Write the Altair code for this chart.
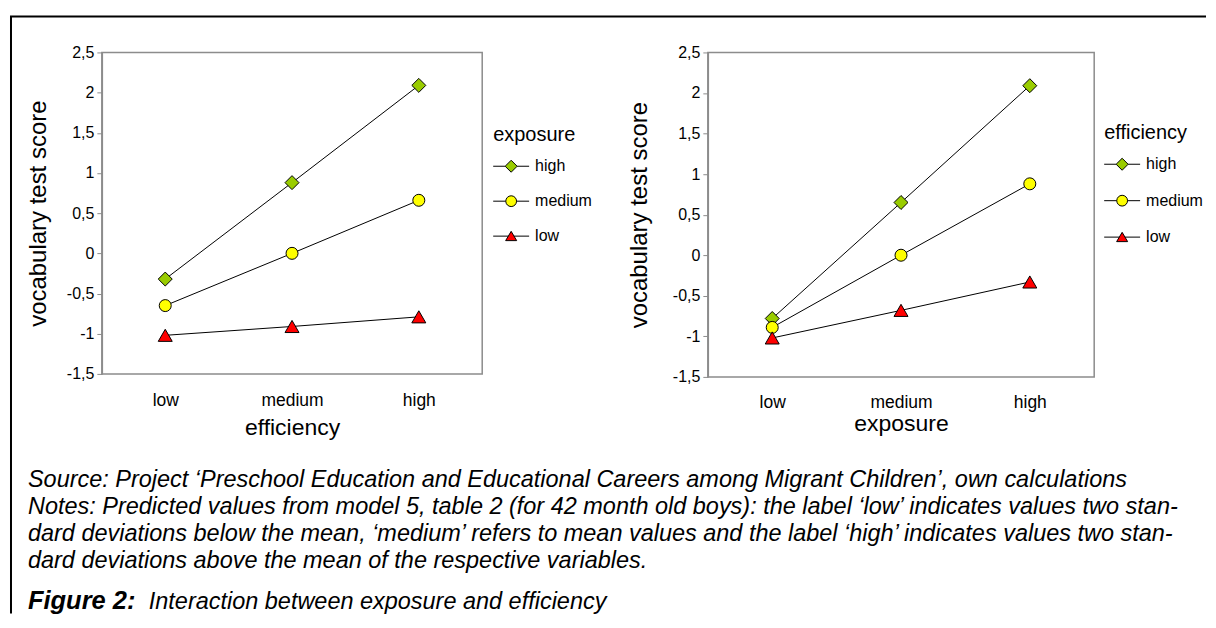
import altair as alt
import pandas as pd

# ---------------- data ----------------
levels = ["low", "medium", "high"]
series_order = ["high", "medium", "low"]

# left panel: x = efficiency, series = exposure
left_high = [-0.32, 0.88, 2.09]
left_medium = [-0.65, 0.00, 0.66]
left_low = [-1.02, -0.91, -0.79]

# right panel: x = exposure, series = efficiency
right_high = [-0.78, 0.65, 2.09]
right_medium = [-0.89, 0.00, 0.88]
right_low = [-1.02, -0.68, -0.33]

y_ticks = [-1.5, -1, -0.5, 0, 0.5, 1, 1.5, 2, 2.5]

marker_colors = ["#99CC00", "#FFFF00", "#FF0000"]
marker_shapes = ["diamond", "circle", "triangle-up"]
marker_sizes = [196, 144, 196]
outline_colors = ["black", "black", "black"]
# legend symbols: short line with the marker on it
legend_shapes = [
    "M-3,0H-1M1,0H3M0,-1L1,0L0,1L-1,0Z",
    "M-3,0H-0.9M0.9,0H3M-0.9,0A0.9,0.9,0,1,0,0.9,0A0.9,0.9,0,1,0,-0.9,0Z",
    "M-3,0H-0.47M0.47,0H3M0,-0.8L0.92,0.75L-0.92,0.75Z",
]

y_title = "vocabulary test score"

caption_lines = [
    "Source: Project \u2018Preschool Education and Educational Careers among Migrant Children\u2019, own calculations",
    "Notes: Predicted values from model 5, table 2 (for 42 month old boys): the label \u2018low\u2019 indicates values two stan-",
    "dard deviations below the mean, \u2018medium\u2019 refers to mean values and the label \u2018high\u2019 indicates values two stan-",
    "dard deviations above the mean of the respective variables.",
]
figure_label = "Figure 2:"
figure_text = "Interaction between exposure and efficiency"

FONT = "Liberation Sans"


def make_df(series_name, x_name, high, medium, low):
    rows = []
    for s, vals in zip(series_order, [high, medium, low]):
        for lv, v in zip(levels, vals):
            rows.append({x_name: lv, series_name: s, "score": v})
    return pd.DataFrame(rows)


def panel(df, x_name, series_name, W, H, legend_x, legend_y, ytitle_x, xtitle_y, label_pad, row_pad):
    base = alt.Chart(df)
    X = alt.X(
        f"{x_name}:N",
        sort=levels,
        scale=alt.Scale(type="point", domain=levels, padding=0.5),
        axis=alt.Axis(
            title=x_name, labelAngle=0, ticks=False, tickSize=0, domain=False, grid=False,
            labelFont=FONT, labelFontSize=17.5, labelColor="black", labelPadding=label_pad,
            titleFont=FONT, titleFontSize=23, titleFontWeight="normal", titleColor="black",
            titleY=xtitle_y, titleBaseline="middle",
        ),
    )
    Y = alt.Y(
        "score:Q",
        scale=alt.Scale(domain=[-1.5, 2.5], nice=False, zero=False),
        axis=alt.Axis(
            values=y_ticks, grid=False,
            labelExpr="replace(toString(datum.value), '.', ',')",
            domainColor="#8c8c8c", domainWidth=1.5, tickColor="#8c8c8c", tickSize=5, tickWidth=1,
            labelFont=FONT, labelFontSize=16, labelColor="black", labelPadding=3,
            title=y_title, titleFont=FONT, titleFontSize=24, titleFontWeight="normal",
            titleColor="black", titleX=ytitle_x, titleY=H / 2, titleBaseline="middle",
        ),
    )
    layers = [
        base.mark_line(color="black", strokeWidth=1).encode(x=X, y=Y, detail=f"{series_name}:N")
    ]
    for s, col, shp, sz in zip(series_order, marker_colors, marker_shapes, marker_sizes):
        layers.append(
            base.transform_filter(alt.datum[series_name] == s)
            .mark_point(filled=True, opacity=1, fill=col, stroke="black", strokeWidth=1, shape=shp, size=sz)
            .encode(x=X, y=Y)
        )
    leg = alt.Legend(
        title=series_name, orient="none", legendX=legend_x, legendY=legend_y,
        padding=0, titleFont=FONT, titleFontSize=20, titleFontWeight="normal",
        titleColor="black", titlePadding=13,
        labelFont=FONT, labelFontSize=16, labelColor="black", labelOffset=16,
        symbolSize=144, symbolOffset=10, rowPadding=row_pad,
        symbolStrokeColor="black", symbolStrokeWidth=1, symbolOpacity=1,
    )
    layers.append(
        base.transform_filter("false")
        .mark_point(filled=True, opacity=1, strokeWidth=1)
        .encode(
            fill=alt.Fill(f"{series_name}:N", scale=alt.Scale(domain=series_order, range=marker_colors), legend=leg),
            shape=alt.Shape(f"{series_name}:N", scale=alt.Scale(domain=series_order, range=legend_shapes), legend=leg),
            stroke=alt.Stroke(f"{series_name}:N", scale=alt.Scale(domain=series_order, range=outline_colors), legend=leg),
        )
    )
    return layers


left_df = make_df("exposure", "efficiency", left_high, left_medium, left_low)
right_df = make_df("efficiency", "exposure", right_high, right_medium, right_low)

LW, LH = 381, 322
RW, RH = 387, 325

l_layers = panel(left_df, "efficiency", "exposure", LW, LH, 392, 73, -63, 54, 18, 19)
r_layers = panel(right_df, "exposure", "efficiency", RW, RH, 397, 71, -68, 47, 17, 20.5)

one = alt.Chart(pd.DataFrame({"k": [0]}))

captions = one.mark_text(
    align="left", baseline="alphabetic", font=FONT, fontStyle="italic", fontSize=23.5,
    color="black", lineHeight=27,
).encode(x=alt.value(-74), y=alt.value(435), text=alt.value(caption_lines))

fig_label = one.mark_text(
    align="left", baseline="alphabetic", font=FONT, fontStyle="italic", fontWeight="bold",
    fontSize=25.5, color="black",
).encode(x=alt.value(-74), y=alt.value(557), text=alt.value(figure_label))

fig_text = one.mark_text(
    align="left", baseline="alphabetic", font=FONT, fontStyle="italic", fontSize=23.5,
    color="black",
).encode(x=alt.value(47), y=alt.value(557), text=alt.value(figure_text))

frame_top = one.mark_rule(color="black", strokeWidth=2).encode(
    x=alt.value(-92), x2=alt.value(1106), y=alt.value(-36), y2=alt.value(-36)
)
frame_left = one.mark_rule(color="black", strokeWidth=2).encode(
    x=alt.value(-91), x2=alt.value(-91), y=alt.value(-36), y2=alt.value(562)
)

left = alt.layer(*l_layers, captions, fig_label, fig_text, frame_top, frame_left).properties(
    width=LW, height=LH
)
right = alt.layer(*r_layers).properties(width=RW, height=RH)

chart = (
    alt.hconcat(left, right, spacing=226, bounds="flush")
    .resolve_scale(x="independent", y="independent", fill="independent", shape="independent",
                   stroke="independent")
    .resolve_legend(fill="independent", shape="independent", stroke="independent")
    .properties(padding={"top": 6, "left": 0, "right": 0, "bottom": 0}, background="white")
    .configure_view(stroke="#8c8c8c", strokeWidth=1.5)
)

chart.save("out.html", embed_options={"renderer": "svg", "actions": False})
